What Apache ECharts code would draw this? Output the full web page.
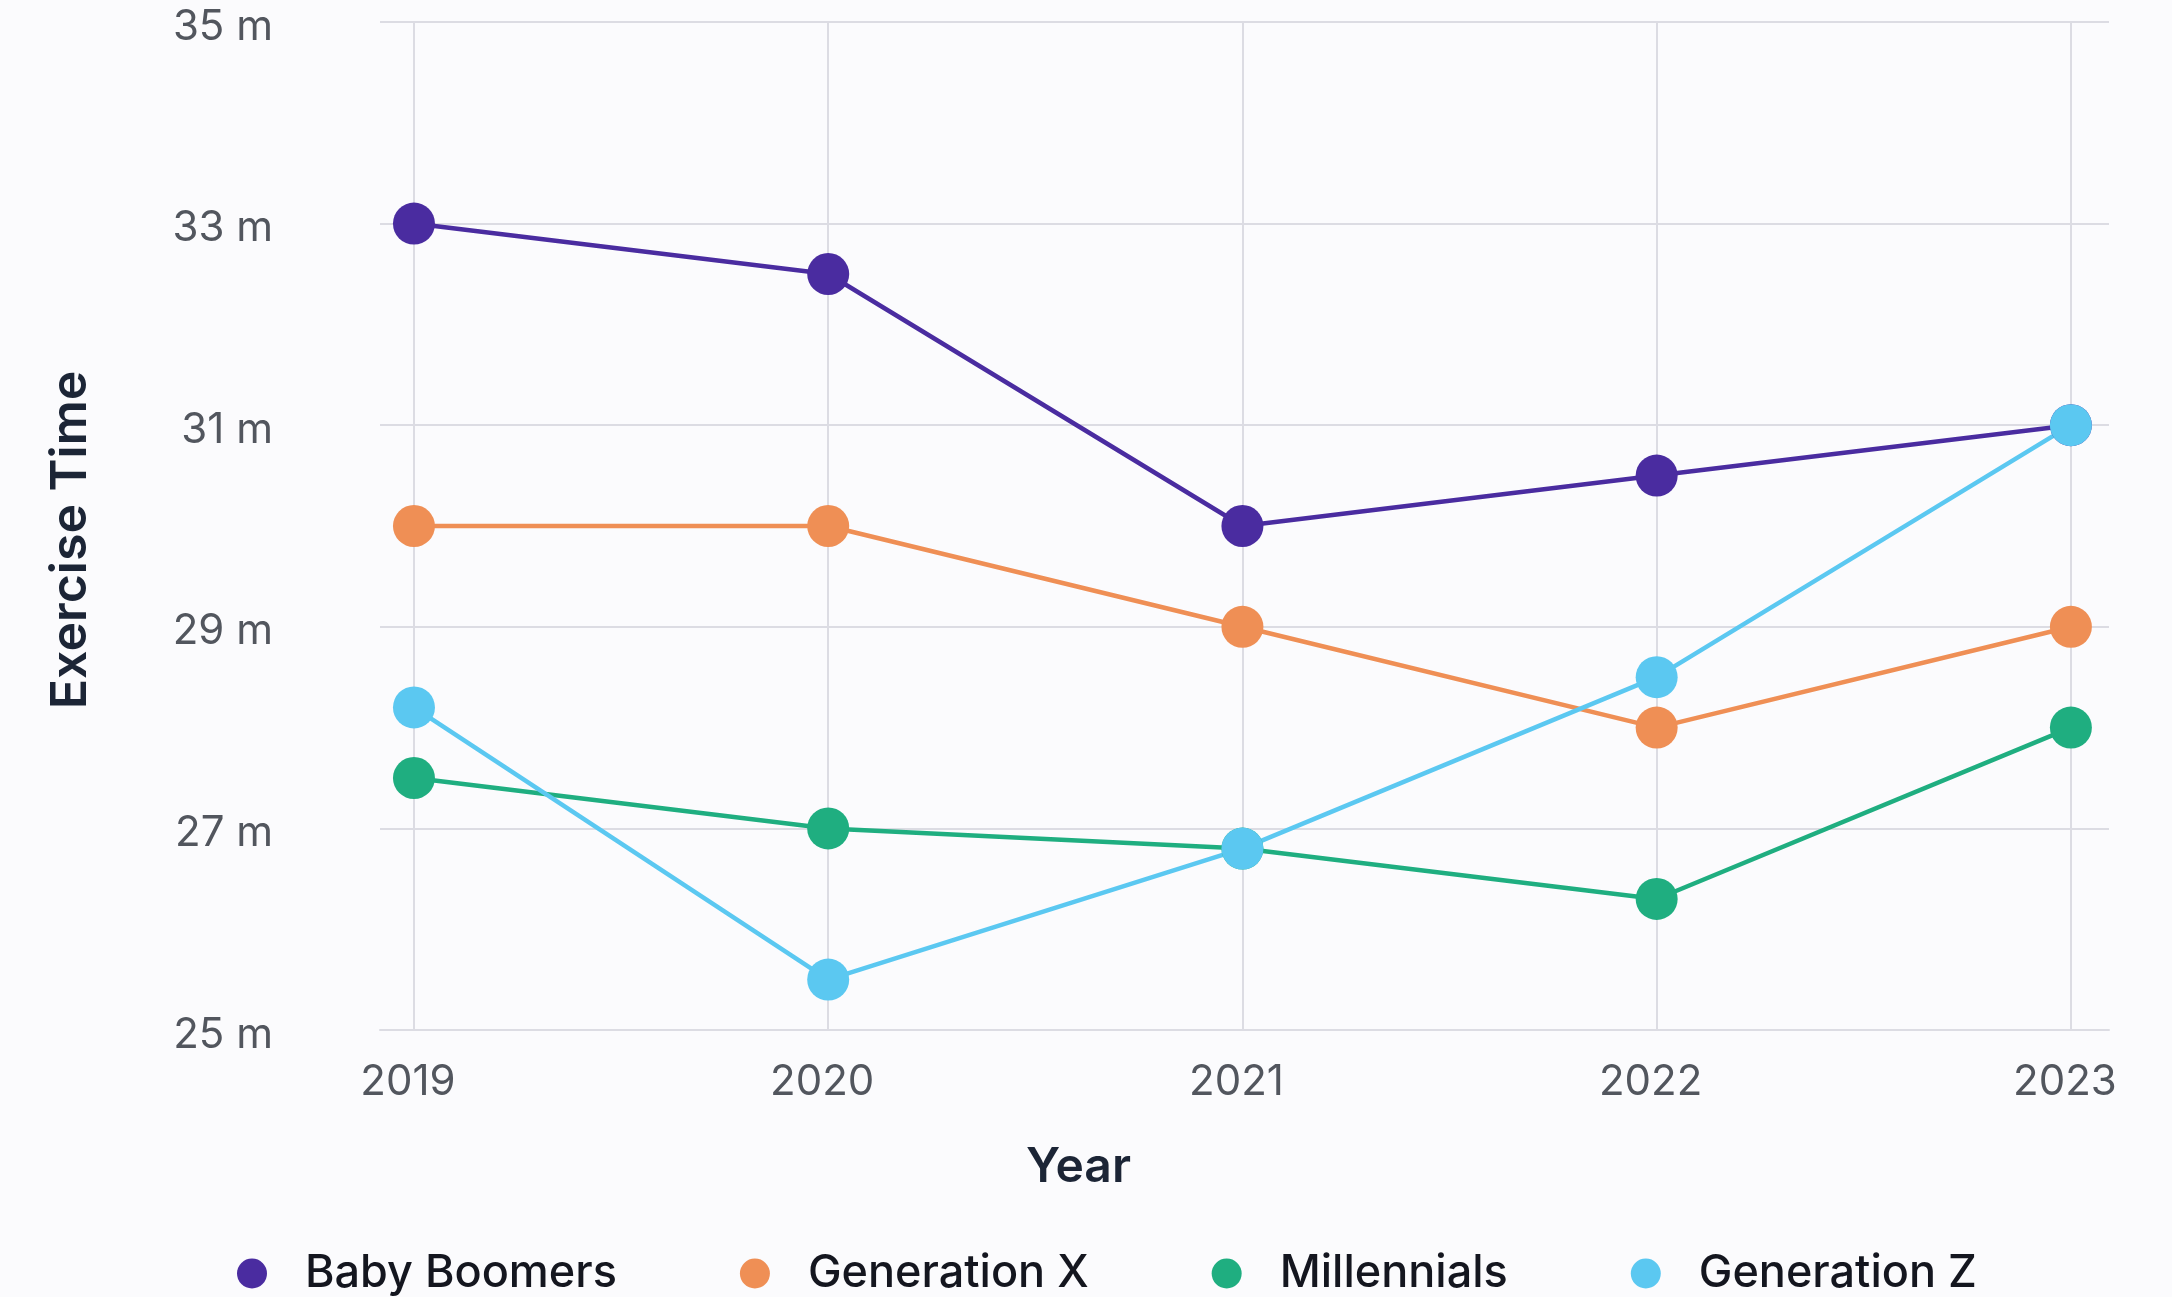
<!DOCTYPE html>
<html>
<head>
<meta charset="utf-8">
<title>Exercise Time by Generation</title>
<script src="https://cdn.jsdelivr.net/npm/echarts@6/dist/echarts.min.js"></script>
<style>
  html, body { margin: 0; padding: 0; background: #fbfbfd; }
  #chart { width: 2172px; height: 1297px; }
</style>
</head>
<body>
<div id="chart"></div>
<script>
// Average daily exercise time (minutes) by generation, 2019–2023
const years = [2019, 2020, 2021, 2022, 2023];
const yTicks = [25, 27, 29, 31, 33, 35];

const babyBoomers = [33.0, 32.5, 30.0, 30.5, 31.0];
const generationX = [30.0, 30.0, 29.0, 28.0, 29.0];
const millennials = [27.5, 27.0, 26.8, 26.3, 28.0];
const generationZ = [28.2, 25.5, 26.8, 28.5, 31.0];

const seriesNames = ['Baby Boomers', 'Generation X', 'Millennials', 'Generation Z'];
const seriesValues = [babyBoomers, generationX, millennials, generationZ];
const seriesColors = ['#4a2ca0', '#ef8f55', '#1fae80', '#5bc8f1'];

const FONT = 'Inter, "Noto Sans", sans-serif';
const GRID_COLOR = '#dcdce3';
const TICK_TEXT = '#52565e';

const chart = echarts.init(document.getElementById('chart'), null, { renderer: 'canvas' });

chart.setOption({
  backgroundColor: '#fbfbfd',
  animation: false,
  grid: { left: 380, right: 63, top: 22, bottom: 267, containLabel: false },
  xAxis: {
    type: 'value',
    min: 2018.918,
    max: 2023.092,
    name: 'Year',
    nameLocation: 'middle',
    nameGap: 114,
    nameTextStyle: {
      fontFamily: FONT, fontSize: 48, fontWeight: 600, color: '#1c2536',
      padding: [0, 332, 0, 0]
    },
    axisLine: { show: true, lineStyle: { color: GRID_COLOR, width: 2 } },
    axisTick: { show: false },
    axisLabel: {
      showMinLabel: false,
      showMaxLabel: false,
      margin: 31,
      padding: [0, 12, 0, 0],
      fontFamily: FONT, fontSize: 42, color: TICK_TEXT,
      formatter: v => (years.indexOf(Math.round(v * 1000) / 1000) >= 0 ? String(v) : '')
    },
    splitLine: {
      show: true,
      showMinLine: false,
      showMaxLine: false,
      lineStyle: { color: GRID_COLOR, width: 2 }
    }
  },
  yAxis: {
    type: 'value',
    min: yTicks[0],
    max: yTicks[yTicks.length - 1],
    interval: yTicks[1] - yTicks[0],
    name: 'Exercise Time',
    nameLocation: 'middle',
    nameRotate: 90,
    nameGap: 284,
    nameTextStyle: {
      fontFamily: FONT, fontSize: 50, fontWeight: 600, color: '#1c2536',
      padding: [0, 28, 0, 0]
    },
    axisLine: { show: false },
    axisTick: { show: false },
    axisLabel: {
      margin: 107,
      formatter: v => '{v|' + v + ' m}',
      rich: {
        v: {
          fontFamily: FONT, fontSize: 42, color: TICK_TEXT,
          padding: [10, 0, 0, 0]
        }
      }
    },
    splitLine: { show: true, lineStyle: { color: GRID_COLOR, width: 2 } }
  },
  legend: {
    left: 237,
    top: 1251,
    padding: 0,
    icon: 'circle',
    itemWidth: 30,
    itemHeight: 30,
    itemGap: 123,
    textStyle: {
      fontFamily: FONT, fontSize: 45, fontWeight: 500, color: '#14161f',
      lineHeight: 45,
      padding: [0, 0, 0, 33]
    },
    data: seriesNames
  },
  series: seriesNames.map((name, i) => ({
    name,
    type: 'line',
    data: years.map((y, j) => [y, seriesValues[i][j]]),
    symbol: 'circle',
    symbolSize: 42,
    itemStyle: { color: seriesColors[i] },
    lineStyle: { color: seriesColors[i], width: 4.5 },
    emphasis: { disabled: true }
  }))
});
</script>
</body>
</html>
